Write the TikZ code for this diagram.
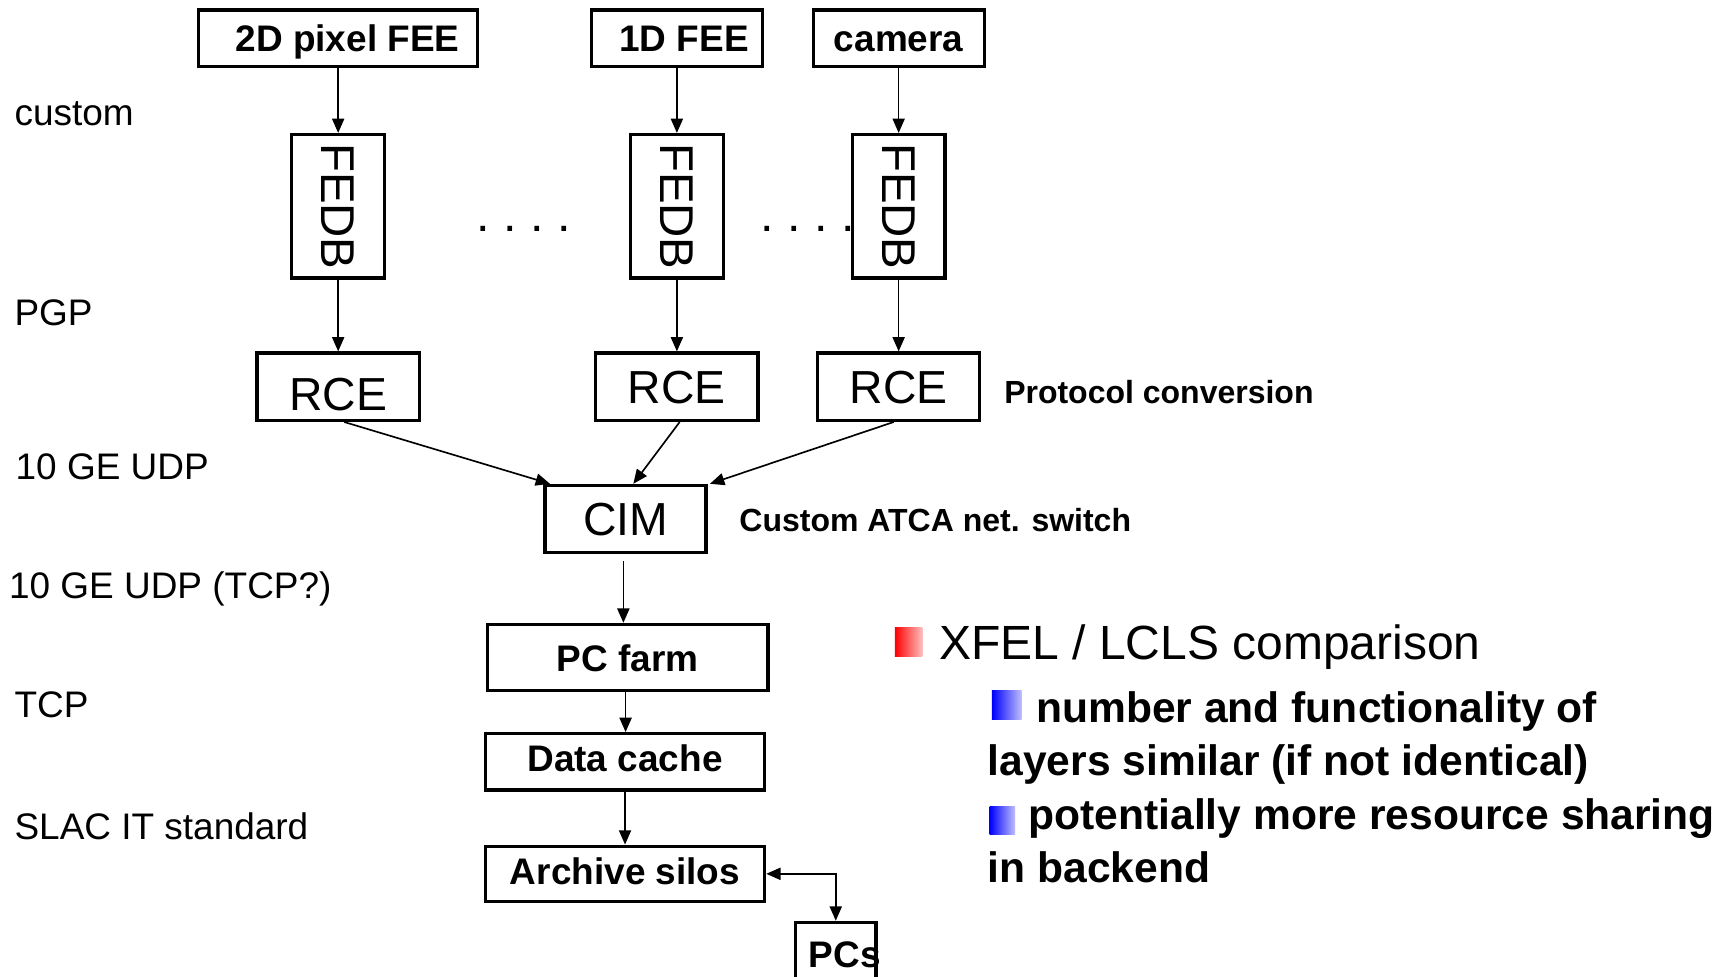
\documentclass[tikz,border=0pt]{standalone}
\usepackage{fontspec}
\setmainfont{Liberation Sans}
\usetikzlibrary{arrows.meta,calc}
\newcommand\myfs[1]{\fontsize{#1pt}{#1pt}\selectfont}
\begin{document}
\begin{tikzpicture}[x=1pt,y=-1pt,
  box/.style={draw,line width=3pt,inner sep=0pt,text height=24pt,text depth=0pt,font=\bfseries\myfs{33.5}},
  bigbox/.style={draw,line width=3pt,inner sep=0pt,text height=30pt,text depth=0pt,font=\myfs{42}},
  fedbbox/.style={draw,line width=3pt,inner sep=0pt,minimum width=84pt,minimum height=130pt,font=\myfs{43}},
  conn/.style={line width=1.5pt,-{Triangle[length=13pt,width=11pt]}},
  lbl/.style={anchor=base west,inner sep=0pt,font=\myfs{33.5}},
  note/.style={anchor=base west,inner sep=0pt,font=\bfseries\myfs{29}},
  itemtxt/.style={anchor=base west,inner sep=0pt,font=\bfseries\myfs{38.6}},
  dotrow/.style={anchor=base west,inner sep=0pt,font=\myfs{44}},
]
\fill[white] (0,0) rectangle (1568,885);
\useasboundingbox (0,0) rectangle (1568,885);

% top row
\node[box,minimum width=253pt,minimum height=51pt] (fee2d) at (306.5,34.5) {\hspace*{17pt}2D pixel FEE};
\node[box,minimum width=155pt,minimum height=51pt] (fee1d) at (613.5,34.5) {\hspace*{13pt}1D FEE};
\node[box,minimum width=155pt,minimum height=51pt] (cam) at (814.5,34.5) {camera};

% FEDB
\node[fedbbox] (fedb1) at (306.5,187) {\rotatebox{-90}{FEDB}};
\node[fedbbox] (fedb2) at (613.5,187) {\rotatebox{-90}{FEDB}};
\node[fedbbox] (fedb3) at (814.5,187) {\rotatebox{-90}{FEDB}};

\node[dotrow] (dots1) at (432,210) {\frenchspacing . . . .};
\node[dotrow] (dots2) at (689,210) {\frenchspacing . . . .};

% RCE
\node[bigbox,minimum width=147pt,minimum height=61pt] (rce1) at (306.5,350.5) {\raisebox{-6.5pt}{RCE}};
\node[bigbox,minimum width=147pt,minimum height=61pt] (rce2) at (613.5,350.5) {RCE};
\node[bigbox,minimum width=147pt,minimum height=61pt] (rce3) at (814.5,350.5) {RCE};
\node[note] (proto) at (910,366) {Protocol conversion};

% CIM
\node[bigbox,minimum width=146pt,minimum height=61pt] (cim) at (567,470.5) {CIM};
\node[note] (atca) at (670,482) {Custom ATCA net. switch};

% backend
\node[box,minimum width=254pt,minimum height=60pt] (pc) at (569,596) {\raisebox{-1pt}{PC farm}};
\node[box,minimum width=253pt,minimum height=51pt] (data) at (566.5,690.5) {\raisebox{3pt}{Data cache}};
\node[box,minimum width=253pt,minimum height=50pt] (arch) at (566.5,792) {\raisebox{2.5pt}{Archive silos}};
\node[draw,line width=3pt,inner sep=0pt,minimum width=73pt,minimum height=68pt] (pcs) at (757.5,870) {};
\node[anchor=base west,inner sep=0pt,font=\bfseries\myfs{33.5}] (pcstxt) at (733,877) {PCs};

% connectors
\draw[conn] (fee2d.south) -- (fedb1.north);
\draw[conn] (fee1d.south) -- (fedb2.north);
\draw[conn] (cam.south) -- (fedb3.north);
\draw[conn] (fedb1.south) -- (rce1.north);
\draw[conn] (fedb2.south) -- (rce2.north);
\draw[conn] (fedb3.south) -- (rce3.north);
\draw[conn] ([xshift=5.5pt]rce1.south) -- ([xshift=6pt]cim.north west);
\draw[conn] ([xshift=2.5pt]rce2.south) -- ([xshift=7pt]cim.north);
\draw[conn] ([xshift=-4.5pt]rce3.south) -- ([xshift=2pt]cim.north east);
\draw[conn] ([xshift=-2pt,yshift=-6pt]cim.south) -- ([xshift=-2pt]cim.south |- pc.north);
\draw[conn] ([xshift=-2pt]pc.south) -- ([xshift=-2pt]pc.south |- data.north);
\draw[conn] (data.south) -- (arch.north);
\draw[line width=1.5pt,{Triangle[length=13pt,width=11pt]}-{Triangle[length=13pt,width=11pt]}] (arch.east) -| (pcs.north);

% left labels
\node[lbl] (l1) at (13,113.5) {custom};
\node[lbl] (l2) at (13,295) {PGP};
\node[lbl] (l3) at (14,435) {10 GE UDP};
\node[lbl] (l4) at (8,542) {10 GE UDP (TCP?)};
\node[lbl] (l5) at (13,650) {TCP};
\node[lbl] (l6) at (13,761) {SLAC IT standard};

% bullets
\shade[left color=red, right color=red!25] (811,569) rectangle (836,595);
\shade[left color=blue, right color=blue!25] (899,626) rectangle (926,652);
\shade[left color=blue, right color=blue!25] (897,731) rectangle (920,756);
\node[anchor=base west,inner sep=0pt,font=\myfs{43.5}] (xfel) at (851,597.5) {XFEL / LCLS comparison};
\node[itemtxt] (i1a) at (939,655) {number and functionality of};
\node[itemtxt] (i1b) at (895,703) {layers similar (if not identical)};
\node[itemtxt] (i2a) at (932,752) {potentially more resource sharing};
\node[itemtxt] (i2b) at (895,800) {in backend};
\end{tikzpicture}
\end{document}
